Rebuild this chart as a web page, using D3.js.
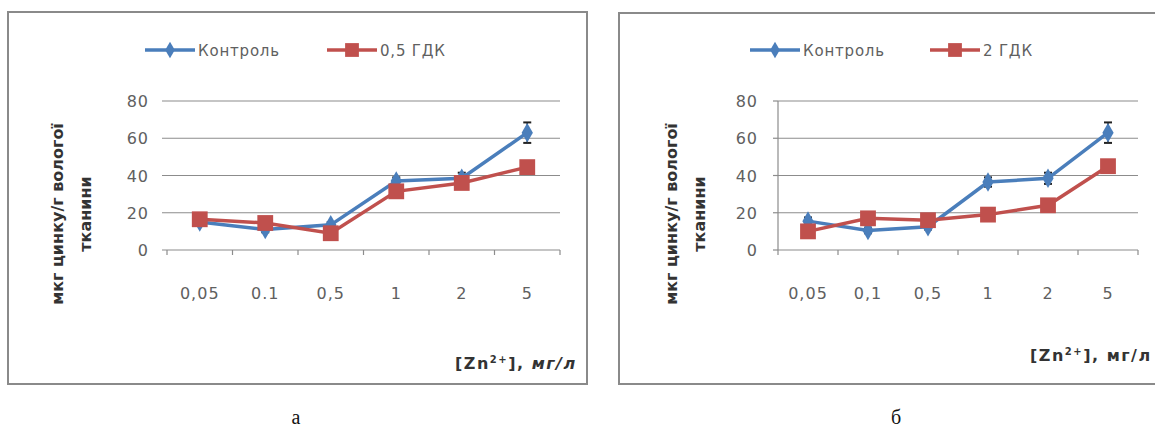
<!DOCTYPE html>
<html>
<head>
<meta charset="utf-8">
<script src="https://cdn.jsdelivr.net/npm/d3@7"></script>
<style>
  body { margin: 0; background: #fff; }
  svg { display: block; }
</style>
</head>
<body>
<div id="chart"></div>
<script>
// values
var yTicks = [0, 20, 40, 60, 80]
var categoriesA = ["0,05", "0.1", "0,5", "1", "2", "5"]
var controlA = [15, 11, 13.5, 37, 38.5, 63]
var controlAErr = [1.5, 1.5, 1.5, 2, 3, 5.5]
var gdkA = [16.5, 14.5, 9, 31.5, 36, 44.5]
var gdkAErr = [1, 1.5, 1, 2, 1.5, 2]

var categoriesB = ["0,05", "0,1", "0,5", "1", "2", "5"]
var controlB = [15.5, 10.5, 12.5, 36.5, 38.5, 63]
var controlBErr = [2, 1.5, 1.5, 2.5, 3, 5.5]
var gdkB = [10, 17, 16, 19, 24, 45]
var gdkBErr = [1.5, 1.5, 1.5, 1.5, 2, 3]

var legendA = ["Контроль", "0,5 ГДК"]
var legendB = ["Контроль", "2 ГДК"]
var captions = ["а", "б"]

var w = 1155
var h = 427
var blue = "#4a7ebb"
var red = "#c0504d"
var font = "'DejaVu Sans', sans-serif"

var svg = d3.select("#chart").append("svg").attr("width", w).attr("height", h)

function panel(opt) {
    var g = svg.append("g")

    g.append("rect")
        .attr("x", opt.frame[0]).attr("y", opt.frame[1])
        .attr("width", opt.frame[2]).attr("height", opt.frame[3])
        .attr("fill", "#fff").attr("stroke", "#8a8a8a").attr("stroke-width", 2)

    var yScale = d3.scaleLinear().domain([0, 80]).range([250, 101])
    var xScale = d3.scaleBand().domain(opt.categories).range(opt.xRange)

    // grid
    g.selectAll(".grid")
        .data(yTicks)
        .enter()
        .append("line")
        .attr("x1", opt.xRange[0] - (opt.axis ? 0 : 5))
        .attr("x2", opt.xRange[1])
        .attr("y1", function(d) { return yScale(d) })
        .attr("y2", function(d) { return yScale(d) })
        .attr("stroke", "#8c8c8c").attr("stroke-width", 1.2)

    g.selectAll(".ylab")
        .data(yTicks)
        .enter()
        .append("text")
        .attr("x", opt.yLabelX)
        .attr("y", function(d) { return yScale(d) + 6 })
        .attr("text-anchor", "end")
        .style("font-family", font).style("font-size", "16px").style("fill", "#606060")
        .style("letter-spacing", "1px")
        .text(function(d) { return d })

    if (opt.axis) {
        g.append("line")
            .attr("x1", opt.xRange[0]).attr("x2", opt.xRange[0])
            .attr("y1", yScale(80)).attr("y2", yScale(0))
            .attr("stroke", "#8c8c8c").attr("stroke-width", 1.2)
        g.selectAll(".ytk")
            .data(yTicks)
            .enter()
            .append("line")
            .attr("x1", opt.xRange[0] - 5).attr("x2", opt.xRange[0])
            .attr("y1", function(d) { return yScale(d) })
            .attr("y2", function(d) { return yScale(d) })
            .attr("stroke", "#8c8c8c").attr("stroke-width", 1.2)
    }

    // x ticks at band edges
    var edges = opt.categories.map(function(c) { return xScale(c) }).concat([opt.xRange[1]])
    g.selectAll(".xtk")
        .data(edges)
        .enter()
        .append("line")
        .attr("x1", function(d) { return d }).attr("x2", function(d) { return d })
        .attr("y1", yScale(0)).attr("y2", yScale(0) + 5)
        .attr("stroke", "#8c8c8c").attr("stroke-width", 1.2)

    g.selectAll(".xlab")
        .data(opt.categories)
        .enter()
        .append("text")
        .attr("x", function(d) { return xScale(d) + xScale.bandwidth() / 2 })
        .attr("y", 299)
        .attr("text-anchor", "middle")
        .style("font-family", font).style("font-size", "16px").style("fill", "#606060")
        .style("letter-spacing", "1px")
        .text(function(d) { return d })

    function cx(i) { return xScale(opt.categories[i]) + xScale.bandwidth() / 2 }

    var line = d3.line()
        .x(function(d, i) { return cx(i) })
        .y(function(d) { return yScale(d) })

    var series = [
        { values: opt.control, err: opt.controlErr, color: blue, shape: d3.symbolDiamond, size: 110 },
        { values: opt.gdk, err: opt.gdkErr, color: red, shape: d3.symbolSquare, size: 250 }
    ]

    series.forEach(function(s) {
        var eb = g.append("g")
        s.values.forEach(function(v, i) {
            eb.append("line")
                .attr("x1", cx(i)).attr("x2", cx(i))
                .attr("y1", yScale(v - s.err[i])).attr("y2", yScale(v + s.err[i]))
                .attr("stroke", "#222").attr("stroke-width", 1.5)
            ;[v - s.err[i], v + s.err[i]].forEach(function(e) {
                eb.append("line")
                    .attr("x1", cx(i) - 4).attr("x2", cx(i) + 4)
                    .attr("y1", yScale(e)).attr("y2", yScale(e))
                    .attr("stroke", "#222").attr("stroke-width", 2)
            })
        })
    })

    series.forEach(function(s) {
        g.append("path")
            .datum(s.values)
            .attr("d", line)
            .attr("fill", "none")
            .attr("stroke", s.color)
            .attr("stroke-width", 3.5)

        g.selectAll(null)
            .data(s.values)
            .enter()
            .append("path")
            .attr("d", d3.symbol().type(s.shape).size(s.size))
            .attr("transform", function(d, i) { return "translate(" + cx(i) + "," + yScale(d) + ")" })
            .attr("fill", s.color)
    })

    // legend
    var lg = g.append("g").attr("transform", "translate(" + opt.legendX + ",50)")
    var items = [
        { text: opt.legend[0], color: blue, shape: d3.symbolDiamond, size: 80, x: 0 },
        { text: opt.legend[1], color: red, shape: d3.symbolSquare, size: 190, x: opt.legendGap }
    ]
    items.forEach(function(it) {
        lg.append("line")
            .attr("x1", it.x).attr("x2", it.x + 50)
            .attr("y1", 0).attr("y2", 0)
            .attr("stroke", it.color).attr("stroke-width", 3.5)
        lg.append("path")
            .attr("d", d3.symbol().type(it.shape).size(it.size))
            .attr("transform", "translate(" + (it.x + 25) + ",0)")
            .attr("fill", it.color)
        lg.append("text")
            .attr("x", it.x + 53).attr("y", 6)
            .style("font-family", font).style("font-size", "15px").style("fill", "#606060")
            .style("letter-spacing", "0.8px")
            .text(it.text)
    })

    // y title
    var yt = g.append("text")
        .attr("transform", "translate(" + opt.yTitleX + ",214) rotate(-90)")
        .attr("text-anchor", "middle")
        .style("font-family", font).style("font-size", "16px")
        .style("font-weight", "bold").style("fill", "#333")
    yt.append("tspan").attr("x", 0).attr("y", 0).text("мкг цинку/г вологої")
    yt.append("tspan").attr("x", 0).attr("y", 28).text("тканини")

    // x title
    var xt = g.append("text")
        .attr("x", opt.xTitleX).attr("y", opt.xTitleY)
        .style("font-family", font).style("font-size", "16px")
        .style("font-weight", "bold").style("fill", "#333")
        .style("letter-spacing", "1.5px")
    xt.append("tspan").text("[Zn")
    xt.append("tspan").attr("dy", -6).style("font-size", "10px").text("2+")
    xt.append("tspan").attr("dy", 6).text("], ")
    xt.append("tspan").style("font-style", opt.italic ? "italic" : "normal").text("мг/л")

    svg.append("text")
        .attr("x", opt.captionX).attr("y", 424)
        .attr("text-anchor", "middle")
        .style("font-family", "'Liberation Serif', serif").style("font-size", "20px")
        .style("fill", "#111")
        .text(opt.caption)
}

panel({
    frame: [8, 12, 579, 372],
    categories: categoriesA, xRange: [167, 560],
    control: controlA, controlErr: controlAErr, gdk: gdkA, gdkErr: gdkAErr,
    legend: legendA, legendX: 145, legendGap: 182,
    yLabelX: 149, yTitleX: 63, axis: false,
    xTitleX: 455, xTitleY: 369, italic: true,
    caption: captions[0], captionX: 296
})

panel({
    frame: [619, 13, 600, 371],
    categories: categoriesB, xRange: [778, 1138],
    control: controlB, controlErr: controlBErr, gdk: gdkB, gdkErr: gdkBErr,
    legend: legendB, legendX: 750, legendGap: 180,
    yLabelX: 758, yTitleX: 677, axis: true,
    xTitleX: 1030, xTitleY: 361, italic: false,
    caption: captions[1], captionX: 896
})
</script>
</body>
</html>
